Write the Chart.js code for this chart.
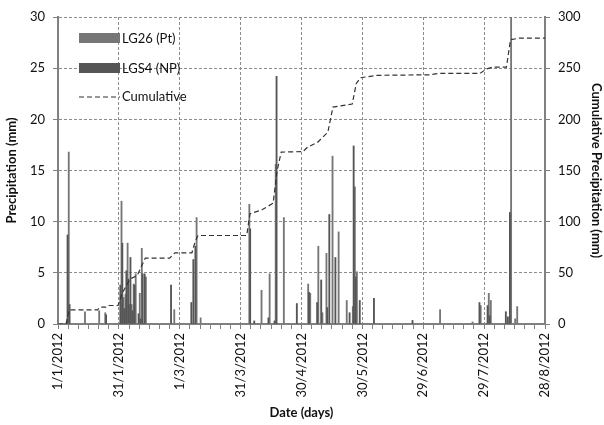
<!DOCTYPE html>
<html>
<head>
<meta charset="utf-8">
<script src="https://cdn.jsdelivr.net/npm/chart.js@4.4.1/dist/chart.umd.min.js"></script>
<style>
  html, body { margin: 0; padding: 0; background: #fff; }
  #wrap { width: 604px; height: 425px; position: relative; }
</style>
</head>
<body>
<div id="wrap"><canvas id="rainChart"></canvas></div>
<script>
// day number counted from 1/1/2012
const dateLabels = ['1/1/2012','31/1/2012','1/3/2012','31/3/2012','30/4/2012','30/5/2012','29/6/2012','29/7/2012','28/8/2012'];

// rain days (only days with a bar), values in mm
const rainDays = [5,6,13,20,23,24,31,32,33,34,35,36,37,38,40,41,42,43,56,57,66,67,68,70,94,95,97,100,104,107,108,111,118,123,124,128,130,132,133,134,135,137,138,142,144,145,146,147,149,156,175,188,204,208,212,213,221,222,223,225,226];
const lg26 = [16.8,0,1.2,1.3,1.1,0,12.0,2.6,2.9,7.9,1.9,1.9,3.9,4.9,3.0,7.4,0,4.6,0,1.4,0,0,10.4,0.6,11.7,0,0,3.3,4.9,15.6,0,10.4,0,3.9,3.0,7.6,1.1,6.9,0,0,16.4,0,9.0,2.3,0,1.7,13.4,5.1,0,0,0,1.4,0.2,1.8,3.0,2.3,0,0,30,0.5,1.7];
const lgs4 = [8.7,1.9,0,0,0,0.9,3.8,7.9,1.5,5.2,4.4,6.5,1.3,3.8,1.0,0.5,4.9,4.9,3.8,0,2.1,6.3,7.6,0,0,9.3,0.3,0,0.6,0.3,24.2,0,2.0,0,3.1,2.1,4.3,0,1.6,10.7,0,6.5,0,0,1.1,0,17.4,4.6,2.3,2.5,0.35,0,0,2.1,1.8,0.8,1.2,0.7,10.9,0,0];

// cumulative curve (mm)
const cumDays = [0,4,5.5,19.5,20.5,23.5,24.5,29.6,31.5,35.5,39,43,55,57.6,66,67.5,69,93,94.6,100.5,106,108,110,120.7,123,128,133,135.5,145,147,149,157,183,188,208,211,214,221,223,227.5,240];
const cumValues = [0,0,13.9,13.9,16.4,16.4,18.1,18.1,29.5,44,47.4,64.3,64.3,69.6,69.6,80,86.5,86.5,107.7,111.6,118,150,168,168.5,172.8,177.7,187.5,212,215,235,240.6,243,243.5,245,245,249,251,251,277.8,279.4,279.4];

const colLG26 = '#767676';
const colLGS4 = '#555555';
const gridCol = '#8c8c8c';
const axisCol = '#808080';
const txtCol = '#111';
const fontFam = 'Lato, "Open Sans", sans-serif';

const toPts = (xs, ys) => xs.map((d, i) => ({ x: d, y: ys[i] || null }));

// legend drawn inside the plot, top left
const innerLegend = {
  id: 'innerLegend',
  afterDatasetsDraw(chart) {
    const ctx = chart.ctx;
    const x0 = chart.chartArea.left + 21;
    ctx.save();
    ctx.font = '13px ' + fontFam;
    ctx.fillStyle = colLG26;
    ctx.fillRect(x0, 33, 41, 10);
    ctx.fillStyle = colLGS4;
    ctx.fillRect(x0, 63, 41, 10);
    ctx.strokeStyle = '#333';
    ctx.lineWidth = 1.2;
    ctx.setLineDash([5, 3]);
    ctx.beginPath();
    ctx.moveTo(x0, 97);
    ctx.lineTo(x0 + 41, 97);
    ctx.stroke();
    ctx.setLineDash([]);
    ctx.fillStyle = txtCol;
    ctx.textBaseline = 'middle';
    ctx.fillText('LG26 (Pt)', x0 + 43, 39);
    ctx.fillText('LGS4 (NP)', x0 + 43, 69);
    ctx.fillText('Cumulative', x0 + 43, 97);
    ctx.restore();
  }
};

new Chart(document.getElementById('rainChart'), {
  type: 'bar',
  data: {
    datasets: [
      { label: 'LGS4 (NP)', data: toPts(rainDays, lgs4), backgroundColor: colLGS4, barThickness: 1.2, yAxisID: 'y', order: 2 },
      { label: 'LG26 (Pt)', data: toPts(rainDays, lg26), backgroundColor: colLG26, barThickness: 1.2, yAxisID: 'y', order: 2 },
      { type: 'line', label: 'Cumulative', data: cumDays.map((d, i) => ({ x: d, y: cumValues[i] })),
        yAxisID: 'y2', borderColor: '#333', borderWidth: 1.2, borderDash: [5, 3], pointRadius: 0, tension: 0, order: 1 }
    ]
  },
  options: {
    responsive: true,
    maintainAspectRatio: false,
    animation: false,
    layout: { padding: { top: 17, left: 0, right: 0, bottom: 0 } },
    plugins: { legend: { display: false }, tooltip: { enabled: false } },
    scales: {
      x: {
        type: 'linear', min: 0, max: 240, offset: false,
        grid: {
          offset: false,
          color: c => (c.tick && c.tick.value % 30 === 0 && c.tick.value > 0 && c.tick.value < 240) ? gridCol : 'transparent',
          tickColor: axisCol, tickLength: 5
        },
        border: { color: axisCol, width: 2, dash: [3, 2] },
        ticks: {
          stepSize: 5, autoSkip: false, maxRotation: 90, minRotation: 90, padding: 4,
          color: txtCol, font: { family: fontFam, size: 13 },
          callback: v => v % 30 === 0 ? dateLabels[v / 30] : ''
        },
        title: { display: true, text: 'Date (days)', color: txtCol, font: { family: fontFam, size: 13, weight: 'bold' }, padding: { top: 0, bottom: 4 } },
        afterFit: s => { s.height = 101; }
      },
      y: {
        position: 'left', min: 0, max: 30,
        grid: {
          color: c => (c.tick && c.tick.value > 0) ? gridCol : 'transparent',
          tickColor: axisCol, tickLength: 5
        },
        border: { color: axisCol, width: 2, dash: [3, 2] },
        ticks: { stepSize: 5, padding: 8, color: txtCol, font: { family: fontFam, size: 13 } },
        title: { display: true, text: 'Precipitation (mm)', color: txtCol, font: { family: fontFam, size: 13, weight: 'bold' }, padding: { top: 4, bottom: 0 } },
        afterFit: s => { s.width = 58; }
      },
      y2: {
        position: 'right', min: 0, max: 300,
        grid: { drawOnChartArea: false, tickColor: axisCol, tickLength: 5 },
        border: { color: axisCol, width: 2 },
        ticks: { stepSize: 50, padding: 8, color: txtCol, font: { family: fontFam, size: 13 } },
        title: { display: true, text: 'Cumulative Precipitation (mm)', color: txtCol, font: { family: fontFam, size: 13, weight: 'bold' }, padding: { top: 0, bottom: 4 } },
        afterFit: s => { s.width = 59; }
      }
    }
  },
  plugins: [innerLegend]
});
</script>
</body>
</html>
